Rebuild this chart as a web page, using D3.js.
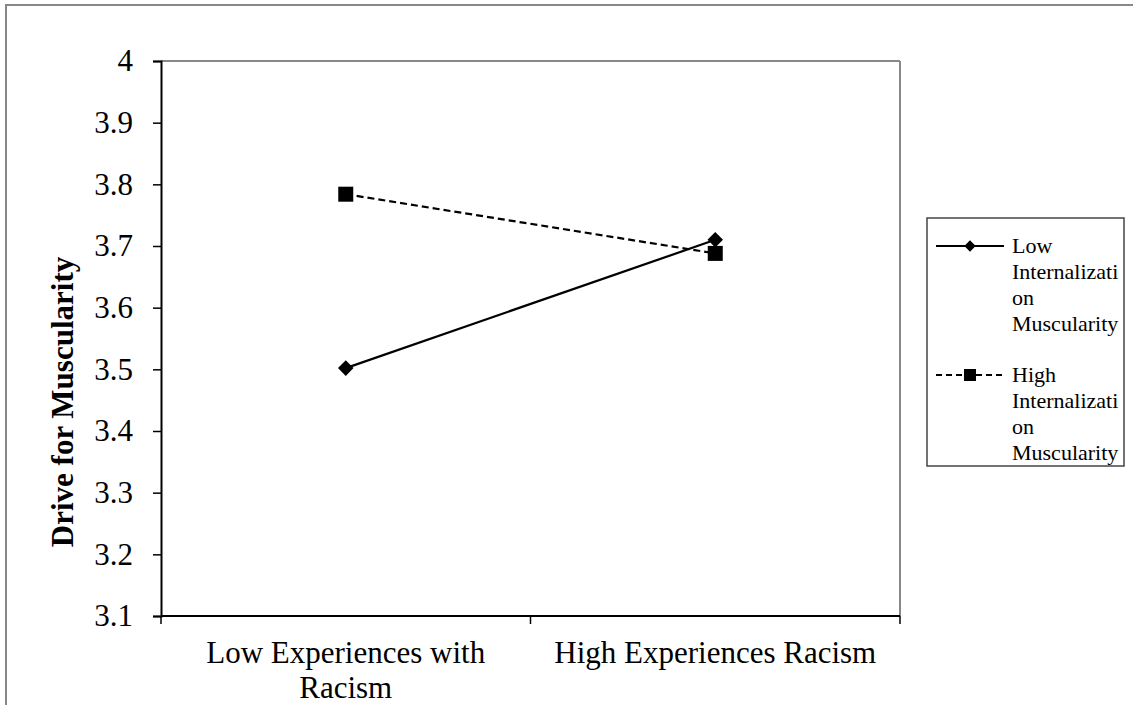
<!DOCTYPE html>
<html lang="en">
<head>
  <meta charset="UTF-8">
  <title>Drive for Muscularity</title>
  <style>
    body { margin: 0; background: #fff; }
    svg text { font-family: "Times New Roman", "Liberation Serif", Times, serif !important; fill: #000; }
  </style>
</head>
<body>
<script src="https://d3js.org/d3.v7.min.js"></script>
<div id="d3_chart"></div>
<script>
// data
const categories = ["Low Experiences with Racism", "High Experiences Racism"];
const categoryLines = [["Low Experiences with", "Racism"], ["High Experiences Racism"]];
const lowInternalization = [3.502, 3.710];
const highInternalization = [3.784, 3.688];
const yTicks = [3.1, 3.2, 3.3, 3.4, 3.5, 3.6, 3.7, 3.8, 3.9, 4];
const seriesNames = [["Low", "Internalizati", "on", "Muscularity"], ["High", "Internalizati", "on", "Muscularity"]];

const serif = '"Times New Roman", "Liberation Serif", Times, serif';

// dimensions
const W = 1134, H = 717;
const margin = {top: 61, left: 161, right: 234, bottom: 101};
const width = W - margin.left - margin.right,
      height = H - margin.top - margin.bottom;

const svg = d3.select("#d3_chart")
  .append("svg")
    .attr("width", W)
    .attr("height", H)
    .attr("font-family", serif);

// outer frame (top + left only)
svg.append("line").attr("x1", 5).attr("x2", 1133).attr("y1", 5).attr("y2", 5)
  .attr("stroke", "#888").attr("stroke-width", 2);
svg.append("line").attr("x1", 6).attr("x2", 6).attr("y1", 5).attr("y2", 705)
  .attr("stroke", "#888").attr("stroke-width", 2);

const g = svg.append("g")
  .attr("transform", `translate(${margin.left},${margin.top})`);

// scales
const x = d3.scaleBand().domain(categories).range([0, width]);
const y = d3.scaleLinear().domain([3.1, 4]).range([height, 0]);
const cx = d => x(d) + x.bandwidth() / 2;

// plot frame: gray top and right
g.append("line").attr("x1", 0).attr("x2", width).attr("y1", 0).attr("y2", 0)
  .attr("stroke", "#888").attr("stroke-width", 2);
g.append("line").attr("x1", width).attr("x2", width).attr("y1", 0).attr("y2", height)
  .attr("stroke", "#888").attr("stroke-width", 2);

// y axis
const yAxis = g.append("g")
  .call(d3.axisLeft(y).tickValues(yTicks).tickSize(8).tickPadding(20)
    .tickFormat(d => d3.format("")(+d.toFixed(1))));
yAxis.attr("font-family", serif).attr("font-size", 31);
yAxis.select(".domain").attr("stroke", "#000").attr("stroke-width", 2);
yAxis.selectAll(".tick line").attr("stroke", "#000").attr("stroke-width", 1.5);
yAxis.selectAll(".tick text").attr("fill", "#000");

// x axis: ticks at band boundaries
const xAxis = g.append("g").attr("transform", `translate(0,${height})`);
xAxis.append("line").attr("x1", 0).attr("x2", width).attr("y1", 0).attr("y2", 0)
  .attr("stroke", "#000").attr("stroke-width", 2);
const bounds = categories.map(c => x(c)).concat([width]);
xAxis.selectAll(".xtick").data(bounds).join("line")
  .attr("x1", d => d).attr("x2", d => d).attr("y1", 0).attr("y2", 8)
  .attr("stroke", "#000").attr("stroke-width", 1.5);
categories.forEach((c, i) => {
  const t = xAxis.append("text")
    .attr("x", cx(c)).attr("y", 47)
    .attr("text-anchor", "middle")
    .attr("font-size", 31);
  categoryLines[i].forEach((line, j) => {
    t.append("tspan").attr("x", cx(c)).attr("dy", j === 0 ? 0 : 35).text(line);
  });
});

// y label
svg.append("text")
  .attr("transform", "translate(73,402) rotate(-90)")
  .attr("text-anchor", "middle")
  .attr("font-size", 31)
  .attr("font-weight", "bold")
  .text("Drive for Muscularity");

// lines
const lineGen = d3.line().x((d, i) => cx(categories[i])).y(d => y(d));

g.append("path").datum(lowInternalization)
  .attr("d", lineGen).attr("fill", "none")
  .attr("stroke", "#000").attr("stroke-width", 2.2);
g.append("path").datum(highInternalization)
  .attr("d", lineGen).attr("fill", "none")
  .attr("stroke", "#000").attr("stroke-width", 2.2)
  .attr("stroke-dasharray", "7,4");

g.selectAll(".dia").data(lowInternalization).join("rect")
  .attr("x", -5.5).attr("y", -5.5).attr("width", 11).attr("height", 11)
  .attr("transform", (d, i) => `translate(${cx(categories[i])},${y(d)}) rotate(45)`)
  .attr("fill", "#000");
g.selectAll(".sq").data(highInternalization).join("rect")
  .attr("x", (d, i) => cx(categories[i]) - 7.5)
  .attr("y", d => y(d) - 7.5)
  .attr("width", 15).attr("height", 15)
  .attr("fill", "#000");

// legend
const lg = svg.append("g");
lg.append("rect").attr("x", 927).attr("y", 218).attr("width", 197).attr("height", 248)
  .attr("fill", "#fff").attr("stroke", "#444").attr("stroke-width", 1.5);

const legendY = [246, 375];
seriesNames.forEach((names, i) => {
  const ly = legendY[i];
  lg.append("line").attr("x1", 936).attr("x2", 1004).attr("y1", ly).attr("y2", ly)
    .attr("stroke", "#000").attr("stroke-width", 2)
    .attr("stroke-dasharray", i === 1 ? "6,4" : null);
  if (i === 0) {
    lg.append("rect").attr("x", -4).attr("y", -4).attr("width", 8).attr("height", 8)
      .attr("transform", `translate(970,${ly}) rotate(45)`).attr("fill", "#000");
  } else {
    lg.append("rect").attr("x", 964).attr("y", ly - 6).attr("width", 12).attr("height", 12)
      .attr("fill", "#000");
  }
  const t = lg.append("text").attr("x", 1012).attr("y", ly + 7).attr("font-size", 22);
  names.forEach((n, j) => {
    t.append("tspan").attr("x", 1012).attr("dy", j === 0 ? 0 : 26).text(n);
  });
});
</script>
</body>
</html>
